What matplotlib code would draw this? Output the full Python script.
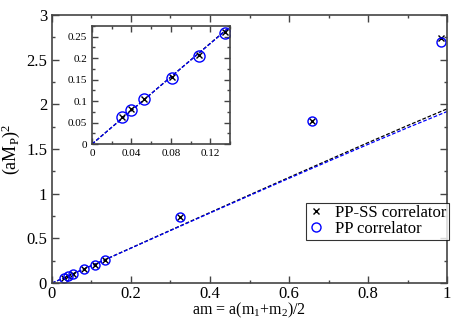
import matplotlib
matplotlib.use("Agg")
import matplotlib.pyplot as plt
from matplotlib.ticker import MultipleLocator

plt.rcParams['font.family'] = ['Liberation Serif', 'DejaVu Serif']
plt.rcParams['mathtext.fontset'] = 'custom'
plt.rcParams['mathtext.rm'] = 'Liberation Serif'
plt.rcParams['mathtext.it'] = 'Liberation Serif'

# data
am = [0.030, 0.040, 0.053, 0.081, 0.108, 0.135, 0.324, 0.657, 0.985]
mp2_ppss = [0.062, 0.081, 0.105, 0.156, 0.207, 0.260, 0.74, 1.82, 2.74]
mp2_pp = [0.062, 0.080, 0.104, 0.155, 0.206, 0.259, 0.74, 1.82, 2.70]

fit_x = [0.0, 0.07, 0.14, 0.3, 0.4, 0.5, 0.6, 0.7, 0.8, 0.9, 1.0]
fit_ppss = [0.0, 0.137, 0.274, 0.592, 0.790, 0.987, 1.183, 1.378, 1.572, 1.763, 1.950]
fit_pp = [0.0, 0.137, 0.273, 0.589, 0.785, 0.980, 1.173, 1.364, 1.553, 1.739, 1.920]

fig = plt.figure(figsize=(4.52, 3.21), dpi=100)
ax = fig.add_axes([0.115, 0.118, 0.874, 0.835])

def style(a, fs):
    for s in a.spines.values():
        s.set_linewidth(1.2)
        s.set_color('#444444')
    a.tick_params(which='both', direction='in', top=True, right=True, labelsize=fs, colors='#444444', labelcolor='black')
    a.tick_params(which='major', length=5, width=1)
    a.tick_params(which='minor', length=2.5, width=1)

def draw(a, ms_x, ms_o):
    a.plot(fit_x, fit_ppss, ls='--', color='black', lw=0.9, dashes=(3, 1.5))
    a.plot(fit_x, fit_pp, ls='--', color='blue', lw=0.9, dashes=(3, 1.5))
    a.plot(am, mp2_ppss, ls='none', marker='x', color='black', ms=ms_x, mew=1.0, label='PP-SS correlator')
    a.plot(am, mp2_pp, ls='none', marker='o', mfc='none', mec='blue', ms=ms_o, mew=1.0, label='PP correlator')

draw(ax, 4.5, 6.5)
ax.set_xlim(0, 1)
ax.set_ylim(0, 3)
ax.set_xticks([0, 0.2, 0.4, 0.6, 0.8, 1.0])
ax.set_xticklabels(['0', '0.2', '0.4', '0.6', '0.8', '1'])
ax.xaxis.set_minor_locator(MultipleLocator(0.1))
ax.set_yticks([0, 0.5, 1, 1.5, 2, 2.5, 3])
ax.set_yticklabels(['0', '0.5', '1', '1.5', '2', '2.5', '3'])
ax.yaxis.set_minor_locator(MultipleLocator(0.25))
style(ax, 12)
ax.tick_params(axis='x', pad=2)
ax.set_xlabel(r'am = a(m$_1$+m$_2$)/2', fontsize=11.5, labelpad=-1)
ax.set_ylabel(r'(aM$_\mathrm{P}$)$^2$', fontsize=13, labelpad=3)
leg = ax.legend(loc='upper right', bbox_to_anchor=(1.004, 0.30), fontsize=12, frameon=True,
                fancybox=False, edgecolor='black', handlelength=1.0, handletextpad=0.6,
                borderpad=0.15, labelspacing=0.0, borderaxespad=0)
leg.get_frame().set_linewidth(0.8)

ins = fig.add_axes([0.2035, 0.551, 0.3055, 0.368])
draw(ins, 5, 8)
ins.set_xlim(0, 0.14)
ins.set_ylim(0, 0.275)
ins.set_xticks([0, 0.04, 0.08, 0.12])
ins.set_xticklabels(['0', '0.04', '0.08', '0.12'])
ins.xaxis.set_minor_locator(MultipleLocator(0.02))
ins.set_yticks([0, 0.05, 0.1, 0.15, 0.2, 0.25])
ins.set_yticklabels(['0', '0.05', '0.1', '0.15', '0.2', '0.25'])
ins.yaxis.set_minor_locator(MultipleLocator(0.025))
style(ins, 8)
ins.tick_params(which='major', length=4)
ins.tick_params(which='minor', length=2)

fig.savefig('out.png', dpi=100)
